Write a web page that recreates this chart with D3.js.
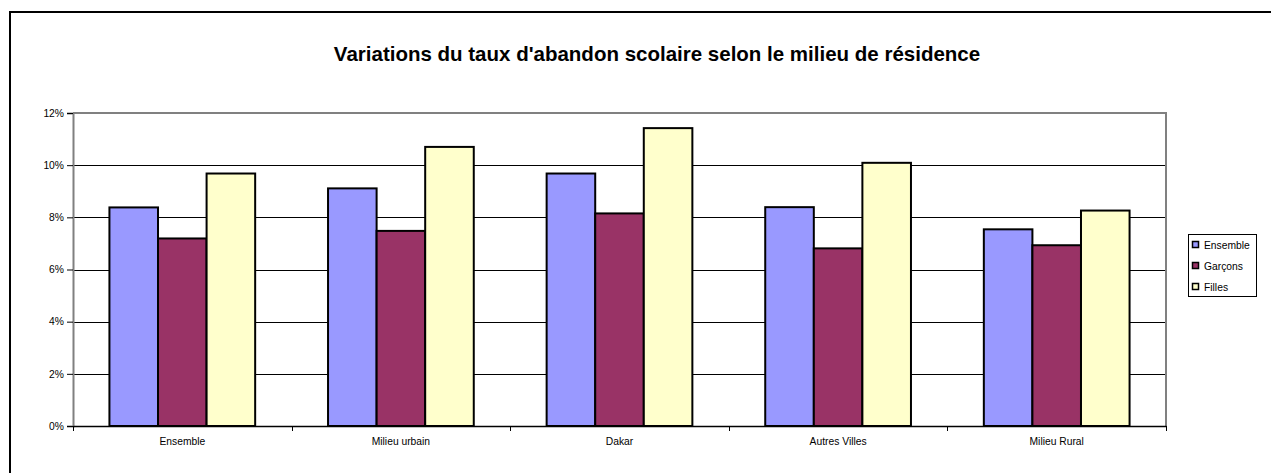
<!DOCTYPE html>
<html><head><meta charset="utf-8">
<script src="https://cdn.jsdelivr.net/npm/d3@7"></script>
<style>body{margin:0;background:#fff;}svg{display:block;font-family:"Liberation Sans",Arial,sans-serif;}</style>
</head><body>
<svg id="c" width="1271" height="473"></svg>
<script>
const categories = ["Ensemble", "Milieu urbain", "Dakar", "Autres Villes", "Milieu Rural"];
const seriesNames = ["Ensemble", "Garçons", "Filles"];
const ensemble = [8.38, 9.11, 9.68, 8.39, 7.54];
const garcons = [7.19, 7.48, 8.15, 6.81, 6.93];
const filles = [9.68, 10.70, 11.42, 10.09, 8.26];
const yTicks = [0, 2, 4, 6, 8, 10, 12];
const colors = ["#9999ff", "#993366", "#ffffcc"];
const title = "Variations du taux d'abandon scolaire selon le milieu de résidence";

const series = [ensemble, garcons, filles];
const svg = d3.select("#c");
const L = 73, R = 1166, T = 113, B = 426;
const FS = 10.3;

// outer chart border
svg.append("rect").attr("x", 10).attr("y", 12).attr("width", 1300).attr("height", 500)
  .attr("fill", "#fff").attr("stroke", "#000").attr("stroke-width", 2);

svg.append("text").attr("x", 657).attr("y", 61).attr("text-anchor", "middle")
  .attr("font-size", 20.5).attr("font-weight", "bold").text(title);

const x = d3.scaleBand().domain(categories).range([L, R]).paddingInner(0).paddingOuter(0);
const xs = d3.scaleBand().domain(seriesNames).range([0, x.bandwidth()]).paddingInner(0).paddingOuter(0.75);
const y = d3.scaleLinear().domain([0, 12]).range([B, T]);

// plot area
svg.append("rect").attr("x", L).attr("y", T).attr("width", R - L).attr("height", B - T)
  .attr("fill", "#fff").attr("stroke", "none");
// gridlines
svg.append("g").selectAll("line").data(yTicks.filter(d => d > 0 && d < 12)).join("line")
  .attr("x1", L).attr("x2", R).attr("y1", d => Math.round(y(d)) + 0.5).attr("y2", d => Math.round(y(d)) + 0.5)
  .attr("stroke", "#000").attr("stroke-width", 1);

// bars
const g = svg.append("g");
series.forEach((vals, si) => {
  g.selectAll(null).data(vals).join("rect")
    .attr("x", (d, i) => x(categories[i]) + xs(seriesNames[si]))
    .attr("y", d => y(d))
    .attr("width", xs.bandwidth())
    .attr("height", d => B - y(d))
    .attr("fill", colors[si]).attr("stroke", "#000").attr("stroke-width", 2);
});

// plot border (gray) top/right
svg.append("path").attr("d", `M${L},${T}H${R}V${B}`).attr("fill", "none")
  .attr("stroke", "#808080").attr("stroke-width", 2);

// y axis
const yAxis = d3.axisLeft(y).tickValues(yTicks).tickFormat(d => d + "%").tickSize(6).tickPadding(3);
const ya = svg.append("g").attr("transform", `translate(${L},0)`).call(yAxis);
ya.select(".domain").attr("stroke", "#808080").attr("stroke-width", 2);
ya.selectAll(".tick line").attr("stroke", "#000");
ya.selectAll("text").attr("font-size", FS).attr("font-family", "Liberation Sans, Arial, sans-serif").attr("fill", "#000");

// x axis
const xAxis = d3.axisBottom(x).tickSize(0).tickPadding(12);
const xa = svg.append("g").attr("transform", `translate(0,${B})`).call(xAxis);
xa.select(".domain").attr("stroke", "#000").attr("stroke-width", 1.5);
xa.selectAll("text").attr("font-size", FS).attr("font-family", "Liberation Sans, Arial, sans-serif").attr("fill", "#000");
xa.selectAll("line.bnd").data(d3.range(categories.length + 1)).join("line").attr("class", "bnd")
  .attr("x1", i => Math.round(L + i * x.step()) + 0.5).attr("x2", i => Math.round(L + i * x.step()) + 0.5)
  .attr("y1", 0).attr("y2", 5).attr("stroke", "#000");

// legend
const lg = svg.append("g");
lg.append("rect").attr("x", 1188.5).attr("y", 234.5).attr("width", 68).attr("height", 62)
  .attr("fill", "#fff").attr("stroke", "#000").attr("stroke-width", 1);
seriesNames.forEach((n, i) => {
  const yy = 245 + i * 21;
  lg.append("rect").attr("x", 1192.5).attr("y", yy - 3.5).attr("width", 6).attr("height", 6)
    .attr("fill", colors[i]).attr("stroke", "#000").attr("stroke-width", 1.5);
  lg.append("text").attr("x", 1204).attr("y", yy + 3.5).attr("font-size", FS).text(n);
});
</script>
</body></html>
